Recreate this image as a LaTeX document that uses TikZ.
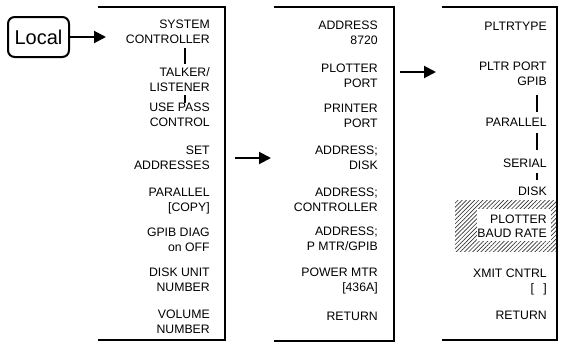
\documentclass[tikz,border=0pt]{standalone}
\usepackage{fontspec}
\setmainfont{Liberation Sans}
\usetikzlibrary{arrows.meta,patterns.meta}
\begin{document}
\begin{tikzpicture}[x=0.75pt,y=-0.75pt,
  t/.style={anchor=base east,inner sep=0pt,font=\fontsize{9.2pt}{11pt}\selectfont,text height=6.5pt,text depth=0pt},
  frame/.style={line width=1.5pt,line join=miter},
  conn/.style={line width=1.4pt},
  arr/.style={line width=1.5pt,-{Triangle[length=9pt,width=9pt]}},
  localbox/.style={draw,line width=1.5pt,rounded corners=5pt,minimum width=61*0.75pt,minimum height=40*0.75pt,inner sep=0pt,font=\fontsize{15pt}{17pt}\selectfont}]
\useasboundingbox (0,0) rectangle (562,343);

% panels
\draw[frame] (98,7) -- (225,7) -- (225,340) -- (98,340);
\draw[frame] (274,7) -- (394,7) -- (394,341) -- (274,341);
\draw[frame] (442,7) -- (557,7) -- (557,340) -- (442,340);

% local key
\node[localbox] (local) at (38.5,37) {Local};
\coordinate (p1in) at (106,37);
\draw[arr] (local.east) -- (p1in);

% panel-to-panel arrows
\coordinate (a2s) at (235,158);
\coordinate (a2e) at (271,158);
\draw[arr] (a2s) -- (a2e);
\coordinate (a3s) at (400,72);
\coordinate (a3e) at (436,72);
\draw[arr] (a3s) -- (a3e);

% panel 1
\node[t] (pAa) at (210,28.5) {SYSTEM};
\node[t] (pAb) at (210,43.5) {CONTROLLER};
\node[t] (pBa) at (210,76.5) {TALKER/};
\node[t] (pBb) at (210,91.5) {LISTENER};
\node[t] (pCa) at (210,111.5) {USE PASS};
\node[t] (pCb) at (210,126.5) {CONTROL};
\node[t] (pDa) at (210,154.5) {SET};
\node[t] (pDb) at (210,169.5) {ADDRESSES};
\node[t] (pEa) at (210,196.5) {PARALLEL};
\node[t] (pEb) at (210,211.5) {[COPY]};
\node[t] (pFa) at (210,236.5) {GPIB DIAG};
\node[t] (pFb) at (210,251.5) {on OFF};
\node[t] (pGa) at (210,276.5) {DISK UNIT};
\node[t] (pGb) at (210,291.5) {NUMBER};
\node[t] (pHa) at (210,318.5) {VOLUME};
\node[t] (pHb) at (210,333.5) {NUMBER};

\coordinate (cx1) at (185,0);
\draw[conn] ([yshift=-3.4pt]pAb.south -| cx1) -- ([yshift=2.8pt]pBa.north -| cx1);
\draw[conn] ([yshift=-2.6pt]pBb.south -| cx1) -- (pCa.north -| cx1);

% panel 2
\node[t] (qAa) at (378,29.5) {ADDRESS};
\node[t] (qAb) at (378,44.5) {8720};
\node[t] (qBa) at (378,72.5) {PLOTTER};
\node[t] (qBb) at (378,87.5) {PORT};
\node[t] (qCa) at (378,112.5) {PRINTER};
\node[t] (qCb) at (378,127.5) {PORT};
\node[t] (qDa) at (378,154.5) {ADDRESS;};
\node[t] (qDb) at (378,169.5) {DISK};
\node[t] (qEa) at (378,196.5) {ADDRESS;};
\node[t] (qEb) at (378,211.5) {CONTROLLER};
\node[t] (qFa) at (378,235.5) {ADDRESS;};
\node[t] (qFb) at (378,250.5) {P MTR/GPIB};
\node[t] (qGa) at (378,276.5) {POWER MTR};
\node[t] (qGb) at (378,291.5) {[436A]};
\node[t] (qH)  at (378,320.5) {RETURN};

% panel 3 hatched box
\path[pattern={Lines[angle=45,distance=2.2pt,line width=0.5pt]},pattern color=black!80] (455,200) rectangle (556,251);
\fill[white] (477,209) rectangle (551,241);

\node[t] (rA)  at (547,30.5) {PLTRTYPE};
\node[t] (rBa) at (547,70.5) {PLTR PORT};
\node[t] (rBb) at (547,85.5) {GPIB};
\node[t] (rC)  at (547,126.5) {PARALLEL};
\node[t] (rD)  at (547,167.5) {SERIAL};
\node[t] (rE)  at (547,195.5) {DISK};
\node[t] (rFa) at (547,223.5) {PLOTTER};
\node[t] (rFb) at (547,237.5) {BAUD RATE};
\node[t] (rGa) at (547,277.5) {XMIT CNTRL};
\node[t] (rGb) at (547,292.5) {[\hspace{7pt}]};
\node[t] (rH)  at (547,319.5) {RETURN};

\coordinate (cx3) at (537,0);
\draw[conn] ([yshift=-7pt]rBb.south -| cx3) -- ([yshift=4.3pt]rC.north -| cx3);
\draw[conn] ([yshift=-4.9pt]rC.south -| cx3) -- ([yshift=6.6pt]rD.north -| cx3);
\draw[conn] ([yshift=-4.1pt]rD.south -| cx3) -- ([yshift=5.1pt]rE.north -| cx3);
\end{tikzpicture}
\end{document}
